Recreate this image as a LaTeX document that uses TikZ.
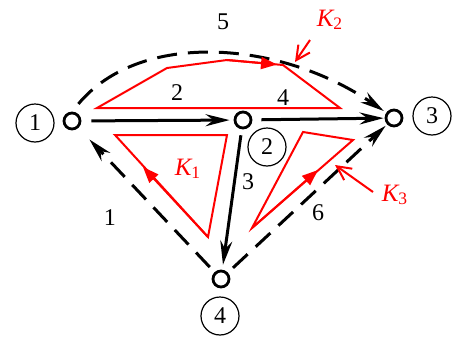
\documentclass[tikz,border=0pt]{standalone}
\usepackage{fontspec}
\newfontfamily\tmsfont{Liberation Serif}
\usetikzlibrary{arrows.meta}
\tikzset{
  vtx/.style={circle,draw,line width=1.4pt,minimum size=8pt,inner sep=0pt},
  tag/.style={circle,draw,line width=0.6pt,minimum size=19pt,inner sep=0pt},
  edg/.style={line width=1.5pt,-{Stealth[length=12pt,width=6pt,inset=4pt]}},
  dedg/.style={edg,dash pattern=on 10pt off 5.5pt},
  cont/.style={red,line width=1pt,line join=miter},
  mark tip/.style={cont,-{Triangle[length=8pt,width=6pt]}},
  ptr/.style={red,line width=1pt,-{Straight Barb[length=7pt,width=7pt]}},
  klabel/.style={red,font=\tmsfont\fontsize{12.5}{14}\selectfont}
}
\begin{document}
\begin{tikzpicture}[x=0.5pt,y=-0.5pt,font=\tmsfont\fontsize{12}{14}\selectfont]
\useasboundingbox (0,0) rectangle (456,338);
% vertices and their number tags
\node[vtx] (v1) at (72,121) {};
\node[vtx] (v2) at (243,120) {};
\node[vtx] (v3) at (394,118) {};
\node[vtx] (v4) at (221,279) {};
\node[tag] (t1) at (35,123) {1};
\node[tag] (t2) at (267,147) {2};
\node[tag] (t3) at (432,116) {3};
\node[tag] (t4) at (220,316) {4};
% branches
\draw[edg,shorten <=5pt,shorten >=2pt] (v1) -- (v2);
\draw[edg,shorten <=4.5pt,shorten >=0.5pt] (v2) -- (v3);
\draw[edg,shorten <=3pt,shorten >=2.5pt] (v2) -- (v4);
\draw[dedg,shorten <=3.5pt,shorten >=8pt] (v4) -- (v1);
\draw[dedg,shorten <=3.5pt,shorten >=1pt] (v4) -- (v3);
\draw[dedg,shorten <=5pt,shorten >=1.5pt] (v1.north) .. controls (140,30) and (280,40) .. (v3);
\node (n5) at (223,22) {5};
\node (n2) at (177,93) {2};
\node (n4) at (283,98) {4};
\node (n3) at (248,182) {3};
\node (n1) at (110,218) {1};
\node (n6) at (318,213) {6};
% contours
\draw[cont] (97,108) -- (167,68) -- (227,60) -- (283,65) -- (340,108) -- cycle;
\draw[mark tip] (227,60) -- (277,64.5);
\draw[cont] (115,135) -- (227,135) -- (208,237) -- cycle;
\draw[mark tip] (208,237) -- (143,167);
\draw[cont] (303,132) -- (353,140) -- (252,228) -- cycle;
\draw[mark tip] (252,228) -- (318,170);
\draw[ptr] (310,40) -- (295,62);
\draw[ptr] (373,192) -- (335,165);
\node[klabel] (k1) at (188,169) {{\itshape K}\textsubscript{1}};
\node[klabel] (k2) at (330,20) {{\itshape K}\textsubscript{2}};
\node[klabel] (k3) at (395,195) {{\itshape K}\textsubscript{3}};
\end{tikzpicture}
\end{document}
